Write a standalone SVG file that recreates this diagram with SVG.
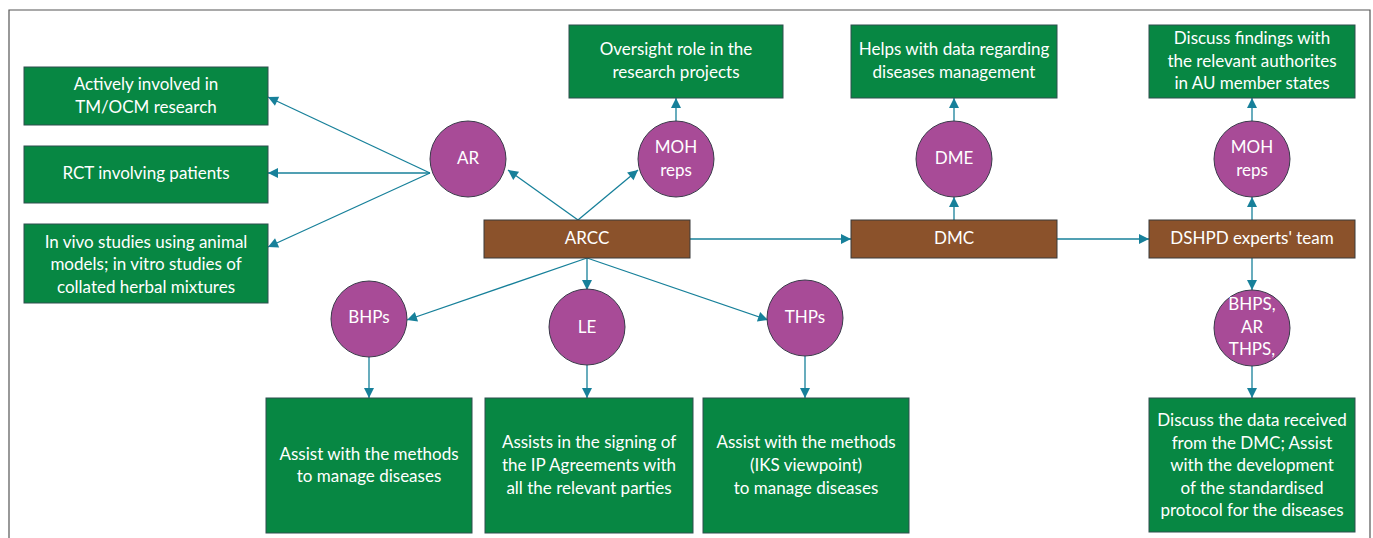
<svg xmlns="http://www.w3.org/2000/svg" width="1373" height="538" viewBox="0 0 1373 538">
<style>
.g{fill:#078743;stroke:#2f4f4f;stroke-width:1}
.b{fill:#8B522B;stroke:#3a3a3a;stroke-width:1}
.c{fill:#A84B97;stroke:#3a3a4a;stroke-width:1}
text{font-family:Lato,"Open Sans","Liberation Sans",sans-serif;font-size:17px;fill:#ffffff;text-anchor:middle}
.e{stroke:#17809A;stroke-width:1.3;fill:none;marker-end:url(#ah)}
</style>
<defs>
<marker id="ah" markerUnits="userSpaceOnUse" markerWidth="12" markerHeight="12" viewBox="0 0 12 12" refX="11" refY="6" orient="auto">
<path d="M1,1 L11,6 L1,11 Z" fill="#17809A"/>
</marker>
</defs>
<rect width="1373" height="538" fill="#ffffff"/>
<path d="M9,540 V10 H1370 V540" fill="none" stroke="#555555" stroke-width="1.2"/>
<g id="connectors">
<path class="e" d="M430,173 L268,97"/>
<path class="e" d="M430,173 L268,173"/>
<path class="e" d="M430,173 L268,247"/>
<path class="e" d="M578,220 L508,170"/>
<path class="e" d="M578,220 L638,170"/>
<path class="e" d="M676,121 L676,98"/>
<path class="e" d="M690,239 L851,239"/>
<path class="e" d="M954,220 L954,197"/>
<path class="e" d="M954,121 L954,98"/>
<path class="e" d="M1057,239 L1149,239"/>
<path class="e" d="M1252,220 L1252,197"/>
<path class="e" d="M1252,121 L1252,98"/>
<path class="e" d="M1252,258 L1252,290"/>
<path class="e" d="M1252,366 L1252,398"/>
<path class="e" d="M587,258 L587,290"/>
<path class="e" d="M587,258 L407,320"/>
<path class="e" d="M587,258 L768,320"/>
<path class="e" d="M369,357 L369,398"/>
<path class="e" d="M587,365 L587,398"/>
<path class="e" d="M805,356 L805,398"/>
</g>
<g id="n-tm"><rect class="g" x="24" y="67" width="244" height="58"/><text x="146" y="90">Actively involved in</text><text x="146" y="113">TM/OCM research</text></g>
<g id="n-rct"><rect class="g" x="24" y="146" width="244" height="57"/><text x="146" y="179">RCT involving patients</text></g>
<g id="n-vivo"><rect class="g" x="24" y="224" width="244" height="79"/><text x="146" y="248">In vivo studies using animal</text><text x="146" y="270">models; in vitro studies of</text><text x="146" y="293">collated herbal mixtures</text></g>
<g id="n-ar"><circle class="c" cx="468" cy="159" r="38"/><text x="468" y="164">AR</text></g>
<g id="n-moh1"><circle class="c" cx="676" cy="159" r="38"/><text x="676" y="153">MOH</text><text x="676" y="176">reps</text></g>
<g id="n-oversight"><rect class="g" x="569" y="25" width="214" height="73"/><text x="676" y="55">Oversight role in the</text><text x="676" y="78">research projects</text></g>
<g id="n-arcc"><rect class="b" x="484" y="220" width="206" height="38"/><text x="587" y="244">ARCC</text></g>
<g id="n-helps"><rect class="g" x="851" y="25" width="206" height="73"/><text x="954" y="55">Helps with data regarding</text><text x="954" y="78">diseases management</text></g>
<g id="n-dme"><circle class="c" cx="954" cy="159" r="38"/><text x="954" y="164">DME</text></g>
<g id="n-dmc"><rect class="b" x="851" y="220" width="206" height="38"/><text x="954" y="244">DMC</text></g>
<g id="n-findings"><rect class="g" x="1149" y="25" width="206" height="73"/><text x="1252" y="44">Discuss findings with</text><text x="1252" y="67">the relevant authorites</text><text x="1252" y="89">in AU member states</text></g>
<g id="n-moh2"><circle class="c" cx="1252" cy="159" r="38"/><text x="1252" y="153">MOH</text><text x="1252" y="176">reps</text></g>
<g id="n-dshpd"><rect class="b" x="1149" y="220" width="206" height="38"/><text x="1252" y="244">DSHPD experts' team</text></g>
<g id="n-bhps2"><circle class="c" cx="1252" cy="328" r="38"/><text x="1252" y="310">BHPS,</text><text x="1252" y="333">AR</text><text x="1252" y="355">THPS,</text></g>
<g id="n-discussdata"><rect class="g" x="1149" y="398" width="206" height="134"/><text x="1252" y="426">Discuss the data received</text><text x="1252" y="449">from the DMC; Assist</text><text x="1252" y="471">with the development</text><text x="1252" y="494">of the standardised</text><text x="1252" y="516">protocol for the diseases</text></g>
<g id="n-bhps"><circle class="c" cx="369" cy="319" r="38"/><text x="369" y="323">BHPs</text></g>
<g id="n-le"><circle class="c" cx="587" cy="327" r="38"/><text x="587" y="333">LE</text></g>
<g id="n-thps"><circle class="c" cx="805" cy="318" r="38"/><text x="805" y="323">THPs</text></g>
<g id="n-assist1"><rect class="g" x="266" y="398" width="206" height="135"/><text x="369" y="460">Assist with the methods</text><text x="369" y="482">to manage diseases</text></g>
<g id="n-assist2"><rect class="g" x="485" y="398" width="208" height="135"/><text x="589" y="448">Assists in the signing of</text><text x="589" y="471">the IP Agreements with</text><text x="589" y="494">all the relevant parties</text></g>
<g id="n-assist3"><rect class="g" x="703" y="398" width="206" height="135"/><text x="806" y="448">Assist with the methods</text><text x="806" y="471">(IKS viewpoint)</text><text x="806" y="494">to manage diseases</text></g>
</svg>
